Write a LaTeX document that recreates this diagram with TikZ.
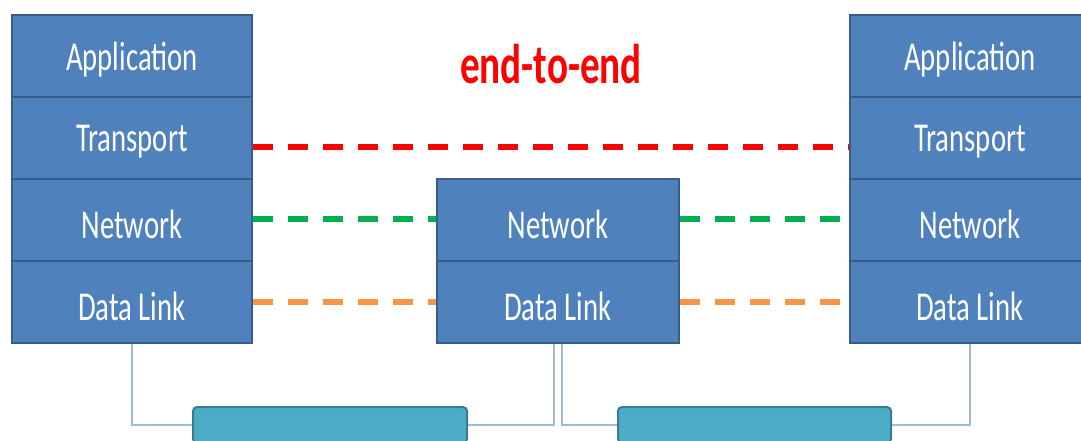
\documentclass[tikz,border=0pt]{standalone}
\usepackage{fontspec}
\setmainfont{Carlito}
\usepackage{graphicx}
\definecolor{boxblue}{HTML}{4F81BD}
\definecolor{boxedge}{HTML}{385D8A}
\definecolor{barteal}{HTML}{4BACC6}
\definecolor{baredge}{HTML}{357D91}
\definecolor{wire}{HTML}{9DB9DE}
\definecolor{dred}{HTML}{FF0000}
\definecolor{dgreen}{HTML}{00B050}
\definecolor{dorange}{HTML}{F79646}
\newcommand{\sq}[1]{\raisebox{-4pt}[\height][\depth]{\scalebox{0.7}[1]{#1}}}
\tikzset{
  layer/.style={draw=boxedge, fill=boxblue, line width=2.5pt, minimum width=240pt, minimum height=82pt, inner sep=0pt, text=white, font=\fontsize{41}{41}\selectfont},
  bar/.style={draw=baredge, fill=barteal, line width=2pt, rounded corners=4pt, minimum height=36pt, inner sep=0pt},
  peer/.style={line width=6.5pt, dash pattern=on 20pt off 15pt},
  wireline/.style={draw=wire, line width=1.5pt},
}
\begin{document}
\begin{tikzpicture}[x=1pt,y=-1pt]
\useasboundingbox (0,0) rectangle (1081,441);
% left stack
\node[layer] (L1) at (132,56) {\sq{Application}};
\node[layer] (L2) at (132,138) {\sq{Transport}};
\node[layer] (L3) at (132,220) {\sq{Network}};
\node[layer] (L4) at (132,302) {\sq{Data Link}};
% middle stack
\node[layer, minimum width=242pt] (M1) at (558,220) {\sq{Network}};
\node[layer, minimum width=242pt] (M2) at (558,302) {\sq{Data Link}};
% right stack
\node[layer] (R1) at (970,56) {\sq{Application}};
\node[layer] (R2) at (970,138) {\sq{Transport}};
\node[layer] (R3) at (970,220) {\sq{Network}};
\node[layer] (R4) at (970,302) {\sq{Data Link}};
% title
\node[text=dred, font=\fontsize{56}{56}\bfseries\selectfont] (T) at (551,64) {\scalebox{0.7}[1]{end-to-end}};
% bars
\node[bar, minimum width=274pt] (B1) at (330,425) {};
\node[bar, minimum width=273pt] (B2) at (754.5,425) {};
% peer lines
\draw[peer, draw=dred] ([yshift=-9pt]L2.east) -- ([yshift=-9pt]R2.west);
\draw[peer, draw=dgreen] ([yshift=1pt]L3.east) -- ([yshift=1pt]M1.west);
\draw[peer, draw=dgreen] ([yshift=1pt]M1.east) -- ([yshift=1pt]R3.west);
\draw[peer, draw=dorange] (L4.east) -- (M2.west);
\draw[peer, draw=dorange] (M2.east) -- (R4.west);
% wires
\draw[wireline] (L4.south) |- (B1.west);
\draw[wireline] (M2.south) ++(-4,0) |- (B1.east);
\draw[wireline] (M2.south) ++(4,0) |- (B2.west);
\draw[wireline] (R4.south) |- (B2.east);
\end{tikzpicture}
\end{document}
